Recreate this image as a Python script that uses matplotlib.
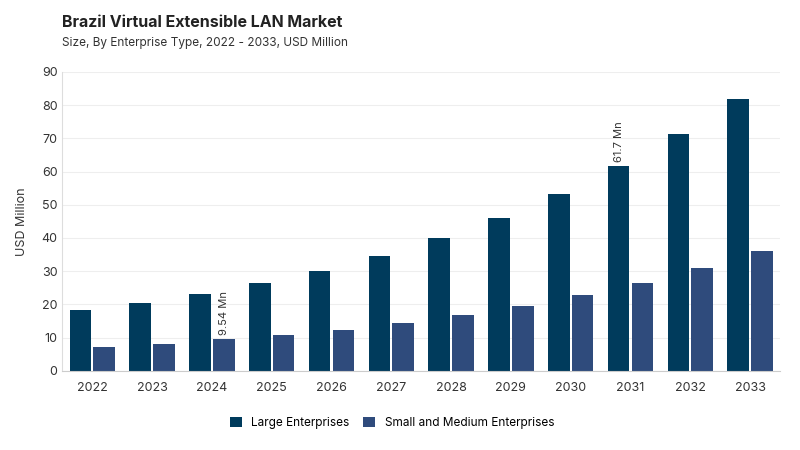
import matplotlib
matplotlib.use("Agg")
import matplotlib.pyplot as plt
import numpy as np

years = ["2022","2023","2024","2025","2026","2027","2028","2029","2030","2031","2032","2033"]
large = [18.2, 20.5, 23.2, 26.4, 30.2, 34.7, 40.0, 46.1, 53.2, 61.7, 71.3, 81.8]
sme = [7.2, 8.1, 9.54, 10.8, 12.4, 14.4, 16.7, 19.5, 22.7, 26.5, 31.0, 36.0]
series_names = ["Large Enterprises", "Small and Medium Enterprises"]

plt.rcParams['font.family'] = ['Inter', 'DejaVu Sans']
fig = plt.figure(figsize=(8, 4.5), dpi=100)
ax = fig.add_axes([0.078, 0.176, 0.897, 0.664])
x = np.arange(len(years))
w = 0.36
c1, c2 = "#003b5c", "#2f4b7c"
ax.bar(x - w/2 - 0.02, large, w, color=c1, label=series_names[0])
ax.bar(x + w/2 + 0.02, sme, w, color=c2, label=series_names[1])
ax.text(x[2] + w/2 + 0.02, sme[2] + 1.2, "9.54 Mn", rotation=90, ha="center", va="bottom", fontsize=8, color="#333333")
ax.text(x[9] - w/2 - 0.02, large[9] + 1.2, "61.7 Mn", rotation=90, ha="center", va="bottom", fontsize=8, color="#333333")
ax.set_xlim(-0.5, len(years) - 0.5)
ax.set_ylim(0, 90)
ax.set_yticks(range(0, 91, 10))
ax.set_xticks(x)
ax.set_xticklabels(years)
ax.tick_params(axis='both', labelsize=9, colors="#333333", length=0)
ax.tick_params(axis='x', pad=8)
ax.grid(axis='y', color="#eeeeee", linewidth=0.8)
ax.set_axisbelow(True)
for s in ["top", "right"]:
    ax.spines[s].set_visible(False)
ax.spines["left"].set_color("#dddddd")
ax.spines["bottom"].set_color("#cccccc")
ax.set_ylabel("USD Million", fontsize=9, color="#333333", labelpad=10)
fig.text(0.078, 0.95, "Brazil Virtual Extensible LAN Market", fontsize=11.5, fontweight="bold", color="#222222", va="center")
fig.text(0.078, 0.905, "Size, By Enterprise Type, 2022 - 2033, USD Million", fontsize=8.5, color="#333333", va="center")
fig.legend(loc="center", bbox_to_anchor=(0.49, 0.06), ncol=2, frameon=False, fontsize=8.5, handlelength=1.0, handleheight=1.0, columnspacing=1.2)
fig.savefig("out.png", dpi=100)
